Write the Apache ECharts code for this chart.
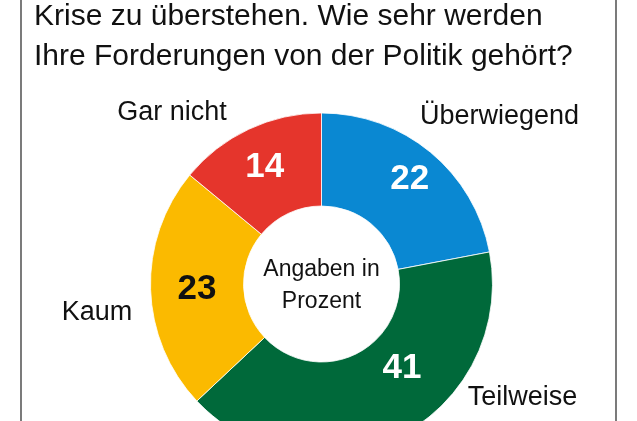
<!DOCTYPE html>
<html>
<head>
<meta charset="utf-8">
<script src="https://cdn.jsdelivr.net/npm/echarts@6/dist/echarts.min.js"></script>
<style>
html,body{margin:0;padding:0;background:#fff;}
#chart{width:637px;height:421px;}
</style>
</head>
<body>
<div id="chart"></div>
<script>
// ---- data ----
const categories = ['Überwiegend', 'Teilweise', 'Kaum', 'Gar nicht'];
const values = [22, 41, 23, 14];
const colors = ['#0A88D2', '#00693A', '#FBBA00', '#E5352C'];
const valueLabelColors = ['#ffffff', '#ffffff', '#111111', '#ffffff'];
const titleLines = ['Krise zu überstehen. Wie sehr werden', 'Ihre Forderungen von der Politik gehört?'];
const centerText = ['Angaben in', 'Prozent'];

// ---- layout / style (not data) ----
const CX = 321.5, CY = 284, R0 = 78, R1 = 171;
const valueOffsets = { 'Überwiegend': [7, -6], 'Teilweise': [22.5, -29.5], 'Kaum': [3, 1.5], 'Gar nicht': [-2.5, -1] };
const namePositions = { 'Überwiegend': [499.5, 117], 'Teilweise': [522.5, 398], 'Kaum': [97, 312.5], 'Gar nicht': [172, 112.5] };
const FONT = '"Liberation Sans", Arial, sans-serif';

const mainData = categories.map((name, i) => ({
  name: name,
  value: values[i],
  itemStyle: { color: colors[i] },
  label: {
    color: valueLabelColors[i],
    offset: valueOffsets[name],
    textBorderColor: colors[i],
    textBorderWidth: 1
  }
}));
const nameData = categories.map((name, i) => ({ name: name, value: values[i] }));

const chart = echarts.init(document.getElementById('chart'), null, { renderer: 'canvas' });
chart.setOption({
  backgroundColor: '#ffffff',
  animation: false,
  title: {
    text: titleLines.join('\n'),
    left: 34,
    top: -3,
    padding: 0,
    textStyle: { fontFamily: FONT, fontSize: 30, fontWeight: 'normal', color: '#111', lineHeight: 40 }
  },
  graphic: [
    { type: 'line', shape: { x1: 21, y1: 0, x2: 21, y2: 421 }, style: { stroke: '#222', lineWidth: 1.2 } },
    { type: 'line', shape: { x1: 616, y1: 0, x2: 616, y2: 421 }, style: { stroke: '#222', lineWidth: 1.2 } },
    {
      type: 'text', x: CX, y: 286, z: 10,
      style: {
        text: centerText.join('\n'), fontFamily: FONT, fontSize: 23, lineHeight: 32,
        fill: '#111', align: 'center', verticalAlign: 'middle'
      }
    }
  ],
  series: [
    {
      type: 'pie',
      center: [CX, CY],
      radius: [R0, R1],
      startAngle: 90,
      clockwise: true,
      silent: true,
      itemStyle: { borderColor: '#ffffff', borderWidth: 0.8 },
      label: {
        show: true,
        position: 'inside',
        formatter: '{c}',
        fontFamily: FONT,
        fontSize: 35,
        fontWeight: 'bold'
      },
      labelLine: { show: false },
      data: mainData
    },
    {
      type: 'pie',
      center: [CX, CY],
      radius: [R0, R1],
      startAngle: 90,
      clockwise: true,
      silent: true,
      itemStyle: { color: 'rgba(0,0,0,0)', borderWidth: 0 },
      label: {
        show: true,
        position: 'outside',
        formatter: '{b}',
        fontFamily: FONT,
        fontSize: 27,
        color: '#111',
        overflow: 'none',
        width: 300
      },
      labelLine: { show: false },
      labelLayout: function (p) {
        const pos = namePositions[categories[p.dataIndex]];
        return { x: pos[0], y: pos[1], align: 'center', verticalAlign: 'middle' };
      },
      data: nameData
    }
  ]
});
</script>
</body>
</html>
